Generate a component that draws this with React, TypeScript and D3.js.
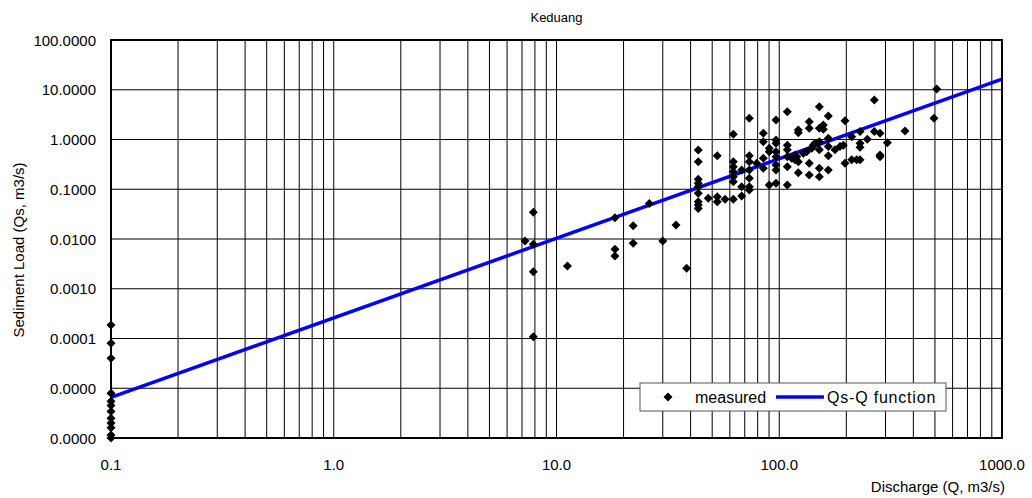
import React from "react";
import * as d3 from "d3";

const chartTitle = "Keduang";
const xAxisTitle = "Discharge (Q, m3/s)";
const yAxisTitle = "Sediment Load (Qs, m3/s)";

const xTicks = [0.1, 1, 10, 100, 1000];
const yTicks = [1e-6, 1e-5, 1e-4, 1e-3, 1e-2, 1e-1, 1, 10, 100];

// Qs-Q rating curve: Qs = a * Q^b
const fitCoef = 2.6e-4;
const fitExp = 1.6;

// measured samples: [discharge Q (m3/s), sediment load Qs (m3/s)]
const measuredLow: [number, number][] = [
  [0.1, 1.87e-4], [0.1, 8.0e-5], [0.1, 4.0e-5], [0.1, 7.9e-6], [0.1, 5.5e-6],
  [0.1, 4.5e-6], [0.1, 3.4e-6], [0.1, 2.5e-6], [0.1, 2.0e-6], [0.1, 1.6e-6],
  [0.1, 1.15e-6], [0.1, 1.0e-6],
];

const measuredMid: [number, number][] = [
  [7.87, 0.0344], [7.22, 0.0091], [7.87, 0.0078], [7.87, 0.0022], [7.87, 0.000109],
  [11.2, 0.00286], [18.3, 0.0268], [18.3, 0.0062], [18.3, 0.00455], [22.1, 0.0185],
  [22.1, 0.0082], [26.1, 0.052], [30.0, 0.0091], [34.4, 0.0191], [38.4, 0.00258],
];

const measuredHigh: [number, number][] = [
  [43.3, 0.615], [43.3, 0.358], [43.3, 0.158], [43.3, 0.132], [43.3, 0.112],
  [43.3, 0.083], [43.3, 0.056], [43.3, 0.048], [43.3, 0.041],
  [48.0, 0.066], [52.7, 0.47], [52.7, 0.071], [52.7, 0.056], [57.1, 0.063],
  [62.2, 1.27], [62.2, 0.358], [62.2, 0.284], [62.2, 0.225], [62.2, 0.179], [62.2, 0.142], [62.2, 0.063],
  [67.8, 0.244], [67.8, 0.112], [67.8, 0.073],
  [73.4, 2.67], [73.4, 0.47], [73.4, 0.358], [73.4, 0.244], [73.4, 0.166], [73.4, 0.112], [73.4, 0.097],
  [79.2, 0.333],
  [84.8, 1.33], [84.8, 0.9], [84.8, 0.42], [84.8, 0.264],
  [90.2, 0.67], [90.2, 0.57], [90.2, 0.122],
  [96.7, 2.47], [96.7, 0.98], [96.7, 0.84], [96.7, 0.57], [96.7, 0.45], [96.7, 0.307], [96.7, 0.244], [96.7, 0.132],
  [108.7, 3.62], [108.7, 0.77], [108.7, 0.62], [108.7, 0.45], [108.7, 0.284], [108.7, 0.122],
  [113.7, 0.42], [117.7, 0.49], [117.7, 0.39], [119.8, 0.45],
  [121.8, 1.55], [121.8, 1.37], [121.8, 0.358], [121.8, 0.215],
  [128.2, 0.53], [132.8, 0.57],
  [136.4, 2.28], [136.4, 1.68], [136.4, 0.333], [136.4, 0.193],
  [139.9, 0.67], [142.2, 0.77], [144.7, 0.84], [147.3, 0.84],
  [151.3, 4.56], [151.3, 1.68], [151.3, 0.9], [151.3, 0.62], [151.3, 0.264], [151.3, 0.179],
  [157.7, 1.96], [157.7, 1.6],
  [166.1, 2.97], [166.1, 1.06], [166.1, 0.72], [166.1, 0.47], [166.1, 0.244],
  [178.0, 0.62], [187.4, 0.72], [193.9, 0.77],
  [197.3, 2.39], [197.3, 0.333],
  [211.5, 1.14], [211.5, 0.39], [222.7, 0.39],
  [230.5, 1.44], [230.5, 0.84], [230.5, 0.7], [230.5, 0.39],
  [248.5, 1.01], [267.2, 6.2], [267.2, 1.44],
  [283.4, 1.33], [283.4, 0.49], [283.4, 0.45],
  [305.6, 0.86], [366.8, 1.48], [495.2, 2.67], [509.0, 10.4],
];

const measured = [...measuredLow, ...measuredMid, ...measuredHigh];

const W = 1032;
const H = 498;
const plot = { left: 111, right: 1002, top: 40, bottom: 438 };
const font = "'Liberation Sans', Arial, sans-serif";

function diamond(s: number) {
  return `M0,${-s}L${s},0L0,${s}L${-s},0Z`;
}

export default function App() {
  const x = d3.scaleLog().domain([0.1, 1000]).range([plot.left, plot.right]);
  const y = d3.scaleLog().domain([1e-6, 100]).range([plot.bottom, plot.top]);

  // minor vertical grid: 1..9 within each decade
  const xGrid: number[] = [];
  for (let d = -1; d < 3; d++) {
    for (let k = 1; k <= 9; k++) xGrid.push(k * Math.pow(10, d));
  }

  const fitLine = d3
    .line<number>()
    .x((q) => x(q))
    .y((q) => y(fitCoef * Math.pow(q, fitExp)));

  const fmtY = d3.format(".4f");
  const fmtX = d3.format(".1f");

  const legend = { x0: 640, x1: 946, y0: 383, y1: 411 };
  const legendMid = (legend.y0 + legend.y1) / 2;

  return (
    <svg
      width={W}
      height={H}
      style={{ position: "absolute", left: 0, top: 0, background: "#fff" }}
      fontFamily={font}
    >
      <rect x={0} y={0} width={W} height={H} fill="#fff" />
      <g stroke="#000" strokeWidth={1}>
        {xGrid.map((v, i) => (
          <line key={"vx" + i} x1={x(v)} x2={x(v)} y1={plot.top} y2={plot.bottom} />
        ))}
        {yTicks.map((v, i) => (
          <line key={"hy" + i} x1={plot.left} x2={plot.right} y1={y(v)} y2={y(v)} />
        ))}
      </g>

      <path
        d={fitLine([0.1, 1000]) || ""}
        fill="none"
        stroke="#0000ff"
        strokeWidth={3.5}
      />

      <rect
        x={plot.left}
        y={plot.top}
        width={plot.right - plot.left}
        height={plot.bottom - plot.top}
        fill="none"
        stroke="#000"
        strokeWidth={2}
      />

      <g fill="#000">
        {measured.map(([q, qs], i) => (
          <path key={"m" + i} d={diamond(4.5)} transform={`translate(${x(q)},${y(qs)})`} />
        ))}
      </g>

      {/* legend */}
      <g>
        <rect
          x={legend.x0}
          y={legend.y0}
          width={legend.x1 - legend.x0}
          height={legend.y1 - legend.y0}
          fill="#fff"
          stroke="#555"
          strokeWidth={1}
        />
        <path d={diamond(4.5)} transform={`translate(668,${legendMid})`} fill="#000" />
        <text x={695} y={legendMid} dominantBaseline="central" fontSize={16} fill="#000">
          measured
        </text>
        <line x1={776} x2={824} y1={legendMid} y2={legendMid} stroke="#0000ff" strokeWidth={3.5} />
        <text x={827} y={legendMid} dominantBaseline="central" fontSize={16} letterSpacing={0.8} fill="#000">
          Qs-Q function
        </text>
      </g>

      {/* axis labels */}
      <g fontSize={15} fill="#000">
        {yTicks.map((v, i) => (
          <text key={"ty" + i} x={96} y={y(v)} textAnchor="end" dominantBaseline="central">
            {fmtY(v)}
          </text>
        ))}
        {xTicks.map((v, i) => (
          <text key={"tx" + i} x={x(v)} y={464} textAnchor="middle" dominantBaseline="central">
            {fmtX(v)}
          </text>
        ))}
      </g>

      <text x={(plot.left + plot.right) / 2} y={17} textAnchor="middle" dominantBaseline="central" fontSize={13}>
        {chartTitle}
      </text>
      <text x={1005} y={486} textAnchor="end" dominantBaseline="central" fontSize={15}>
        {xAxisTitle}
      </text>
      <text
        transform={`translate(18,250) rotate(-90)`}
        textAnchor="middle"
        dominantBaseline="central"
        fontSize={15}
      >
        {yAxisTitle}
      </text>
    </svg>
  );
}
